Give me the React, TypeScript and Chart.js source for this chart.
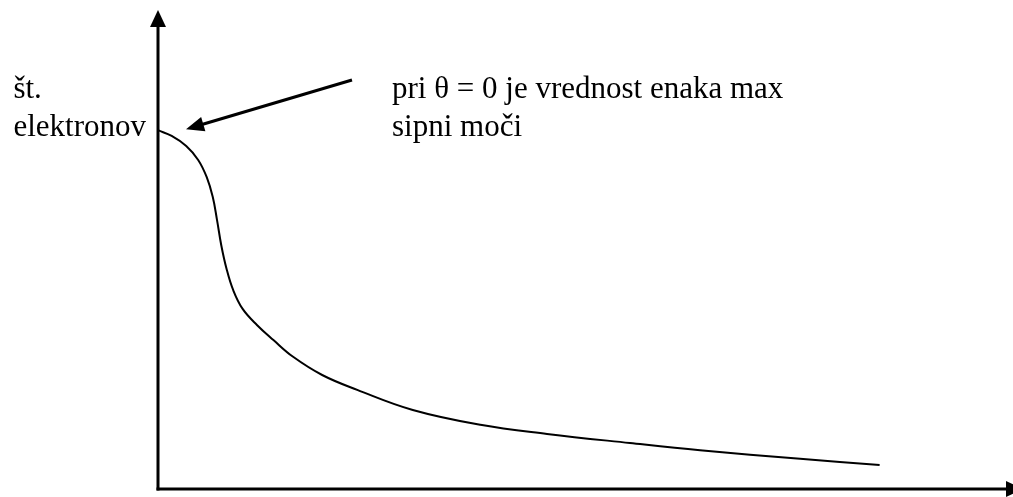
import React, { useEffect, useRef } from "react";
import { Chart, registerables } from "chart.js";

Chart.register(...registerables);

// Scattering angle (arbitrary units) and number of electrons (arbitrary units)
const angleValues: number[] = [
  0, 1.6, 3.3, 4.7, 5.7, 6.4, 6.9, 7.4, 8.0, 8.8, 9.9, 11.6, 13.5, 15.8, 19.2,
  23.3, 29.8, 37.7, 45.5, 55.2, 63.4, 75.1, 84.4,
];
const electronCounts: number[] = [
  74.9, 73.7, 71.6, 68.7, 65.1, 61.0, 56.2, 50.9, 46.1, 41.5, 37.6, 34.2, 31.1,
  27.6, 23.8, 20.7, 16.5, 13.4, 11.5, 9.6, 8.1, 6.3, 5.0,
];

const yAxisLabel: string[] = ["št.", "elektronov"];
const noteLines: string[] = ["pri θ = 0 je vrednost enaka max", "sipni moči"];

const FONT = '31px "Liberation Serif", "Times New Roman", serif';

function arrowHead(
  ctx: CanvasRenderingContext2D,
  tipX: number,
  tipY: number,
  angle: number,
  length: number,
  halfWidth: number
) {
  const bx = tipX - Math.cos(angle) * length;
  const by = tipY - Math.sin(angle) * length;
  const nx = -Math.sin(angle) * halfWidth;
  const ny = Math.cos(angle) * halfWidth;
  ctx.beginPath();
  ctx.moveTo(tipX, tipY);
  ctx.lineTo(bx + nx, by + ny);
  ctx.lineTo(bx - nx, by - ny);
  ctx.closePath();
  ctx.fill();
}

// Draws the two arrowed axes, the pointer to the curve's start and the captions
const sketchPlugin = {
  id: "sketchDecor",
  afterDatasetsDraw(chart: any) {
    const { ctx, chartArea, scales } = chart;
    const left = chartArea.left;
    const bottom = chartArea.bottom;
    ctx.save();
    ctx.strokeStyle = "#000";
    ctx.fillStyle = "#000";
    ctx.lineWidth = 3;
    ctx.lineCap = "butt";

    // vertical axis
    ctx.beginPath();
    ctx.moveTo(left, bottom + 1.5);
    ctx.lineTo(left, chartArea.top + 14);
    ctx.stroke();
    arrowHead(ctx, left, chartArea.top, -Math.PI / 2, 17, 8);

    // horizontal axis
    ctx.beginPath();
    ctx.moveTo(left - 1.5, bottom);
    ctx.lineTo(chartArea.right - 4, bottom);
    ctx.stroke();
    arrowHead(ctx, chartArea.right + 10, bottom, 0, 17, 8);

    // pointer arrow to the value at θ = 0
    const startX = scales.x.getPixelForValue(angleValues[0]);
    const startY = scales.y.getPixelForValue(electronCounts[0]);
    const tipX = startX + 28;
    const tipY = startY - 1;
    const tailX = 352;
    const tailY = 80;
    const ang = Math.atan2(tipY - tailY, tipX - tailX);
    ctx.lineWidth = 3;
    ctx.beginPath();
    ctx.moveTo(tailX, tailY);
    ctx.lineTo(tipX - Math.cos(ang) * 14, tipY - Math.sin(ang) * 14);
    ctx.stroke();
    arrowHead(ctx, tipX, tipY, ang, 18, 7.5);

    // captions
    ctx.font = FONT;
    ctx.textBaseline = "alphabetic";
    ctx.textAlign = "left";
    const labelW = ctx.measureText(yAxisLabel[1]).width;
    const labelX = left - 12 - labelW;
    ctx.fillText(yAxisLabel[0], labelX, 98);
    ctx.fillText(yAxisLabel[1], labelX, 136);
    ctx.fillText(noteLines[0], 392, 98);
    ctx.fillText(noteLines[1], 392, 136);
    ctx.restore();
  },
};

export default function App() {
  const canvasRef = useRef<HTMLCanvasElement | null>(null);

  useEffect(() => {
    if (!canvasRef.current) return;
    const chart = new Chart(canvasRef.current, {
      type: "line",
      data: {
        datasets: [
          {
            data: angleValues.map((x, i) => ({ x, y: electronCounts[i] })),
            borderColor: "#000",
            borderWidth: 2,
            pointRadius: 0,
            fill: false,
            tension: 0.4,
            borderJoinStyle: "round",
            borderCapStyle: "butt",
          },
        ],
      },
      options: {
        animation: false,
        responsive: false,
        maintainAspectRatio: false,
        layout: { padding: { left: 158, top: 10, right: 0, bottom: 8 } },
        plugins: {
          legend: { display: false },
          tooltip: { enabled: false },
          title: { display: false },
        },
        scales: {
          x: { type: "linear", min: 0, max: 100, display: false },
          y: { type: "linear", min: 0, max: 100, display: false },
        },
      },
      plugins: [sketchPlugin],
    });
    return () => chart.destroy();
  }, []);

  return (
    <div style={{ position: "fixed", left: 0, top: 0, width: 1013, height: 497, background: "#fff" }}>
      <canvas ref={canvasRef} width={1013} height={497} style={{ display: "block" }} />
    </div>
  );
}
